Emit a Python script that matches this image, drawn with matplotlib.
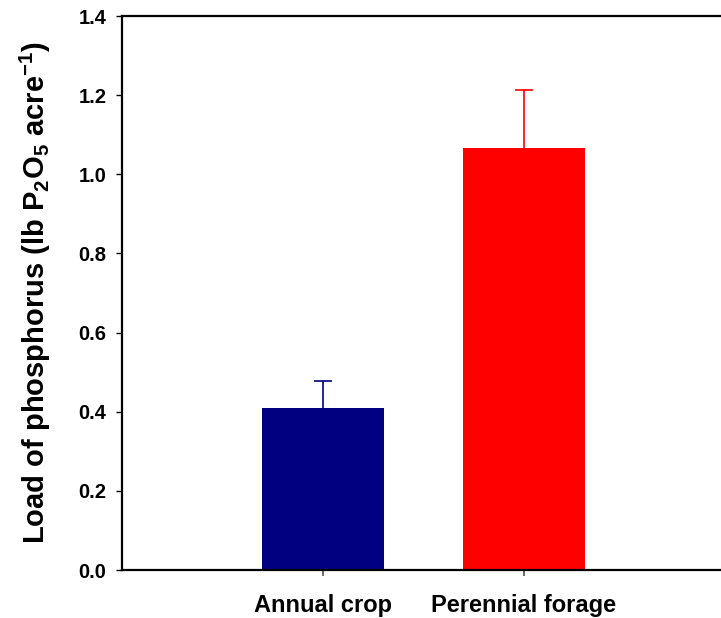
import matplotlib
matplotlib.use("Agg")
import matplotlib.pyplot as plt
import numpy as np

# data
categories = ["Annual crop", "Perennial forage"]
loads = [0.41, 1.066]
errors_up = [0.068, 0.148]
bar_colors = ["#000080", "#FF0000"]

plt.rcParams["font.family"] = ["Liberation Sans", "DejaVu Sans"]
plt.rcParams["font.weight"] = "bold"
plt.rcParams["mathtext.fontset"] = "custom"
plt.rcParams["mathtext.rm"] = "Liberation Sans:bold"
plt.rcParams["mathtext.it"] = "Liberation Sans:bold"
plt.rcParams["mathtext.bf"] = "Liberation Sans:bold"
plt.rcParams["mathtext.sf"] = "Liberation Sans:bold"
plt.rcParams["mathtext.default"] = "rm"

fig = plt.figure(figsize=(7.21, 6.18), dpi=100)
# axes runs a little past the right edge, as in the reference
ax = fig.add_axes([122 / 721, 1 - 570 / 618, 603 / 721, 554 / 618])

x = np.arange(len(categories))
ax.bar(x, loads, width=0.61, color=bar_colors, zorder=2)
for xi, v, e, c in zip(x, loads, errors_up, bar_colors):
    eb = ax.errorbar(xi, v, yerr=[[0], [e]], fmt="none", ecolor=c,
                     elinewidth=1.2, capsize=6.5, capthick=1.2, zorder=1)
    # only the upper cap is shown
    eb[1][0].set_visible(False)

ax.set_xlim(-1, 2)
ax.set_ylim(0, 1.4)
ax.set_yticks(np.arange(0, 1.41, 0.2))
ax.set_yticklabels([f"{t:.1f}" for t in np.arange(0, 1.41, 0.2)])
ax.set_xticks(x)
ax.set_xticklabels(categories)

for s in ax.spines.values():
    s.set_linewidth(1.6)
ax.spines["right"].set_visible(False)

ax.tick_params(axis="y", direction="out", length=4.3, width=1.0,
               labelsize=14.5, pad=7)
ax.tick_params(axis="x", direction="out", length=4.3, width=1.2,
               labelsize=17, pad=13, color="#505050")

ax.set_ylabel(r"Load of phosphorus (lb P$_2$O$_5$ acre$^{-1}$)",
              fontsize=21, fontweight="bold", labelpad=18)

fig.savefig("out.png", dpi=100)
